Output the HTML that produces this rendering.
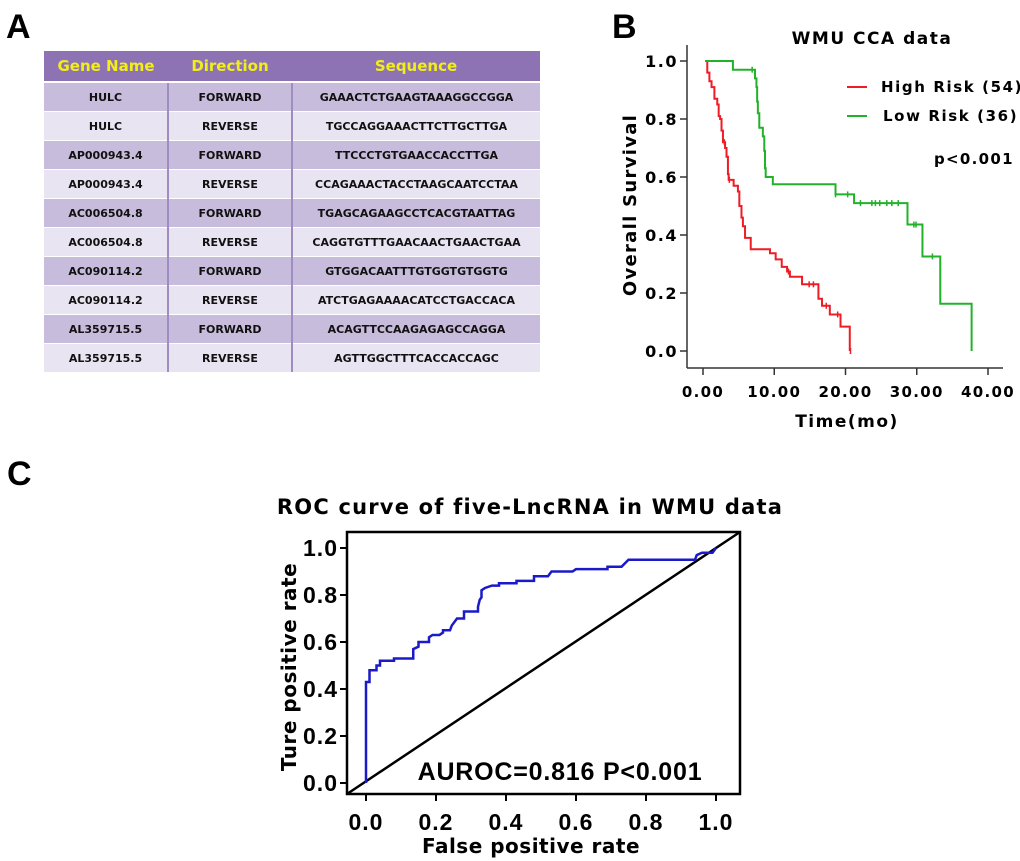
<!DOCTYPE html>
<html><head><meta charset="utf-8">
<style>
html,body{margin:0;padding:0;background:#fff;}
body{width:1020px;height:861px;position:relative;overflow:hidden;font-family:"Liberation Sans",Arial,sans-serif;}
.plabel{position:absolute;font-weight:bold;font-size:34px;color:#000;}
table{position:absolute;left:44px;top:51px;width:496px;border-collapse:collapse;font-family:"DejaVu Sans","Liberation Sans",sans-serif;font-weight:bold;}
th{background:#8d73b3;color:#f2ee1a;font-size:15px;height:30px;padding:0;border-bottom:2px solid #fff;}
td{font-size:11px;height:28px;padding:0;text-align:center;color:#111;border-right:2px solid #9f8cc0;border-top:1px solid #fff;}
td:last-child{border-right:none;}
tr.d td{background:#c8bcdc;}
tr.l td{background:#e9e4f2;}
</style></head><body>
<div class="plabel" style="left:6px;top:8px">A</div>
<div class="plabel" style="left:612px;top:8px">B</div>
<div class="plabel" style="left:7px;top:455px">C</div>

<table>
<tr><th style="width:124px">Gene Name</th><th style="width:124px">Direction</th><th>Sequence</th></tr>
<tr class="d"><td>HULC</td><td>FORWARD</td><td>GAAACTCTGAAGTAAAGGCCGGA</td></tr>
<tr class="l"><td>HULC</td><td>REVERSE</td><td>TGCCAGGAAACTTCTTGCTTGA</td></tr>
<tr class="d"><td>AP000943.4</td><td>FORWARD</td><td>TTCCCTGTGAACCACCTTGA</td></tr>
<tr class="l"><td>AP000943.4</td><td>REVERSE</td><td>CCAGAAACTACCTAAGCAATCCTAA</td></tr>
<tr class="d"><td>AC006504.8</td><td>FORWARD</td><td>TGAGCAGAAGCCTCACGTAATTAG</td></tr>
<tr class="l"><td>AC006504.8</td><td>REVERSE</td><td>CAGGTGTTTGAACAACTGAACTGAA</td></tr>
<tr class="d"><td>AC090114.2</td><td>FORWARD</td><td>GTGGACAATTTGTGGTGTGGTG</td></tr>
<tr class="l"><td>AC090114.2</td><td>REVERSE</td><td>ATCTGAGAAAACATCCTGACCACA</td></tr>
<tr class="d"><td>AL359715.5</td><td>FORWARD</td><td>ACAGTTCCAAGAGAGCCAGGA</td></tr>
<tr class="l"><td>AL359715.5</td><td>REVERSE</td><td>AGTTGGCTTTCACCACCAGC</td></tr>
</table>

<svg id="km" width="1020" height="861" style="position:absolute;left:0;top:0">
<text x="872" y="44" text-anchor="middle" font-size="17" letter-spacing="1.5" font-weight="bold" font-family="DejaVu Sans, sans-serif">WMU CCA data</text>
<text transform="translate(636,205) rotate(-90)" text-anchor="middle" font-size="18" letter-spacing="1.3" font-weight="bold" font-family="DejaVu Sans, sans-serif">Overall Survival</text>
<text x="847" y="427" text-anchor="middle" font-size="17" letter-spacing="1.5" font-weight="bold" font-family="DejaVu Sans, sans-serif">Time(mo)</text>
<line x1="847" y1="87" x2="867" y2="87" stroke="#ee1c24" stroke-width="2"/>
<text x="881" y="92" font-size="15" letter-spacing="1.6" font-weight="bold" font-family="DejaVu Sans, sans-serif">High Risk (54)</text>
<line x1="847" y1="116" x2="867" y2="116" stroke="#22b22a" stroke-width="2"/>
<text x="883" y="121" font-size="15" letter-spacing="1.6" font-weight="bold" font-family="DejaVu Sans, sans-serif">Low Risk (36)</text>
<text x="934" y="164" font-size="15" letter-spacing="1.3" font-weight="bold" font-family="DejaVu Sans, sans-serif">p&lt;0.001</text>
<g id="kmg"></g>
</svg>

<svg id="roc" width="1020" height="861" style="position:absolute;left:0;top:0">
<text x="530" y="514" text-anchor="middle" font-size="21" letter-spacing="1.2" font-weight="bold" font-family="DejaVu Sans, sans-serif">ROC curve of five-LncRNA in WMU data</text>
<text transform="translate(296,667) rotate(-90)" text-anchor="middle" font-size="20" letter-spacing="0.5" font-weight="bold" font-family="DejaVu Sans, sans-serif">Ture positive rate</text>
<text x="531" y="853" text-anchor="middle" font-size="20" letter-spacing="0.5" font-weight="bold" font-family="DejaVu Sans, sans-serif">False positive rate</text>
<text x="560" y="780" text-anchor="middle" font-size="25" letter-spacing="0.8" font-weight="bold" font-family="Liberation Sans, sans-serif">AUROC=0.816 P&lt;0.001</text>
<g id="rocg"></g>
</svg>

<script>
// ---------- KM data ----------
const kmYTicks = [0.0, 0.2, 0.4, 0.6, 0.8, 1.0];
const kmXTicks = [0, 10, 20, 30, 40];
const kmXTickLabels = ["0.00","10.00","20.00","30.00","40.00"];
const highTimes = [0.3,0.6,0.9,1.2,1.6,2.0,2.2,2.4,2.6,2.8,3.1,3.3,3.5,3.6,4.3,4.9,5.1,5.4,5.6,5.9,6.7,9.4,10.2,11.05,11.8,12.2,13.9,16.2,16.7,17.8,19.3,20.6];
const highSurv  = [1.0,0.96,0.93,0.91,0.87,0.85,0.81,0.80,0.76,0.72,0.70,0.67,0.61,0.59,0.57,0.55,0.50,0.46,0.43,0.39,0.351,0.337,0.316,0.29,0.274,0.256,0.23,0.18,0.156,0.126,0.084,0.0];
const highCensor = [3.0,3.7,12.0,14.9,15.5,17.3,18.9,20.7];
const lowTimes = [0.3,4.2,7.3,7.5,7.6,7.7,7.9,8.4,8.6,8.7,8.8,9.8,18.6,21.2,28.7,30.8,33.3,37.7];
const lowSurv  = [1.0,0.97,0.94,0.91,0.86,0.82,0.77,0.74,0.69,0.63,0.60,0.575,0.54,0.51,0.436,0.326,0.163,0.0];
const lowCensor = [6.9,18.6,20.3,22.1,23.7,24.2,24.8,25.8,26.5,27.4,29.6,29.9,32.2];

const NS = "http://www.w3.org/2000/svg";
function mk(tag, attrs, parent){const e=document.createElementNS(NS,tag);for(const k in attrs)e.setAttribute(k,attrs[k]);parent.appendChild(e);return e;}

const kx = t => 703 + t*7.125;
const ky = s => 351 - s*290;
const kmg = document.getElementById('kmg');
let e;
e = mk('line',{x1:687,y1:45,x2:687,y2:368,stroke:'#333','stroke-width':1.5},kmg);


e = mk('line',{x1:687,y1:368,x2:1003,y2:368,stroke:'#333','stroke-width':1.5},kmg);


kmYTicks.forEach(v=>{
  mk('line',{x1:680,y1:ky(v),x2:687,y2:ky(v),stroke:'#333','stroke-width':1.5},kmg);
  e = mk('text',{x:678,y:ky(v)+6,'text-anchor':'end','font-size':16,'letter-spacing':1.5,'font-weight':'bold','font-family':'DejaVu Sans, sans-serif'},kmg);
  e.textContent = v.toFixed(1);
  
  
});
kmXTicks.forEach((v,i)=>{
  mk('line',{x1:kx(v),y1:368,x2:kx(v),y2:375,stroke:'#333','stroke-width':1.5},kmg);
  e = mk('text',{x:kx(v),y:397,'text-anchor':'middle','font-size':15,'letter-spacing':1.3,'font-weight':'bold','font-family':'DejaVu Sans, sans-serif'},kmg);
  e.textContent = kmXTickLabels[i];
  
  
});
function stepPath(times, surv){
  let d = 'M'+kx(times[0])+','+ky(surv[0]);
  for(let i=1;i<times.length;i++){d+=' H'+kx(times[i])+' V'+ky(surv[i]);}
  return d;
}
function survAt(times,surv,t){let s=surv[0];for(let i=0;i<times.length;i++){if(times[i]<=t)s=surv[i];}return s;}
e = mk('path',{d:stepPath(highTimes,highSurv),fill:'none',stroke:'#ee1c24','stroke-width':2},kmg);


e = mk('path',{d:stepPath(lowTimes,lowSurv),fill:'none',stroke:'#22b22a','stroke-width':2},kmg);


highCensor.forEach(t=>{const y=ky(survAt(highTimes,highSurv,t));
  e = mk('line',{x1:kx(t),y1:y-3,x2:kx(t),y2:y+3,stroke:'#ee1c24','stroke-width':1.5},kmg);
  
  });
lowCensor.forEach(t=>{const y=ky(survAt(lowTimes,lowSurv,t));
  e = mk('line',{x1:kx(t),y1:y-3,x2:kx(t),y2:y+3,stroke:'#22b22a','stroke-width':1.5},kmg);
  
  });

// ---------- ROC data ----------
const rocTicks = [0.0,0.2,0.4,0.6,0.8,1.0];
const rocFpr = [0,0,0.01,0.01,0.03,0.03,0.04,0.04,0.08,0.08,0.135,0.135,0.15,0.15,0.18,0.18,0.19,0.21,0.22,0.22,0.24,0.245,0.25,0.26,0.28,0.28,0.32,0.32,0.325,0.33,0.33,0.34,0.36,0.38,0.38,0.43,0.43,0.48,0.48,0.52,0.53,0.59,0.60,0.69,0.69,0.73,0.75,0.94,0.945,0.96,0.99,1.0];
const rocTpr = [0,0.43,0.43,0.48,0.48,0.50,0.50,0.52,0.52,0.53,0.53,0.57,0.58,0.60,0.60,0.62,0.63,0.63,0.64,0.65,0.65,0.67,0.68,0.70,0.70,0.73,0.73,0.75,0.78,0.79,0.82,0.83,0.84,0.84,0.85,0.85,0.86,0.86,0.88,0.88,0.90,0.90,0.91,0.91,0.92,0.92,0.95,0.95,0.97,0.98,0.98,1.0];
const rx = v => 366 + v*350;
const ry = v => 783 - v*235;
const rocg = document.getElementById('rocg');
e = mk('rect',{x:347,y:532,width:393,height:262,fill:'none',stroke:'#000','stroke-width':2.5},rocg);


rocTicks.forEach(v=>{
  mk('line',{x1:340,y1:ry(v),x2:347,y2:ry(v),stroke:'#000','stroke-width':2},rocg);
  e = mk('text',{x:338,y:ry(v)+8,'text-anchor':'end','font-size':23,'letter-spacing':1,'font-weight':'bold','font-family':'Liberation Sans, sans-serif'},rocg);
  e.textContent = v.toFixed(1);
  
  
  mk('line',{x1:rx(v),y1:794,x2:rx(v),y2:801,stroke:'#000','stroke-width':2},rocg);
  e = mk('text',{x:rx(v),y:830,'text-anchor':'middle','font-size':23,'letter-spacing':1,'font-weight':'bold','font-family':'Liberation Sans, sans-serif'},rocg);
  e.textContent = v.toFixed(1);
  
  
});
e = mk('line',{x1:347,y1:794,x2:740,y2:532,stroke:'#000','stroke-width':2.5},rocg);


let d='';
rocFpr.forEach((f,i)=>{d+=(i?' L':'M')+rx(f)+','+ry(rocTpr[i]);});
e = mk('path',{d:d,fill:'none',stroke:'#1a1ac8','stroke-width':2.5},rocg);


</script>
</body></html>
